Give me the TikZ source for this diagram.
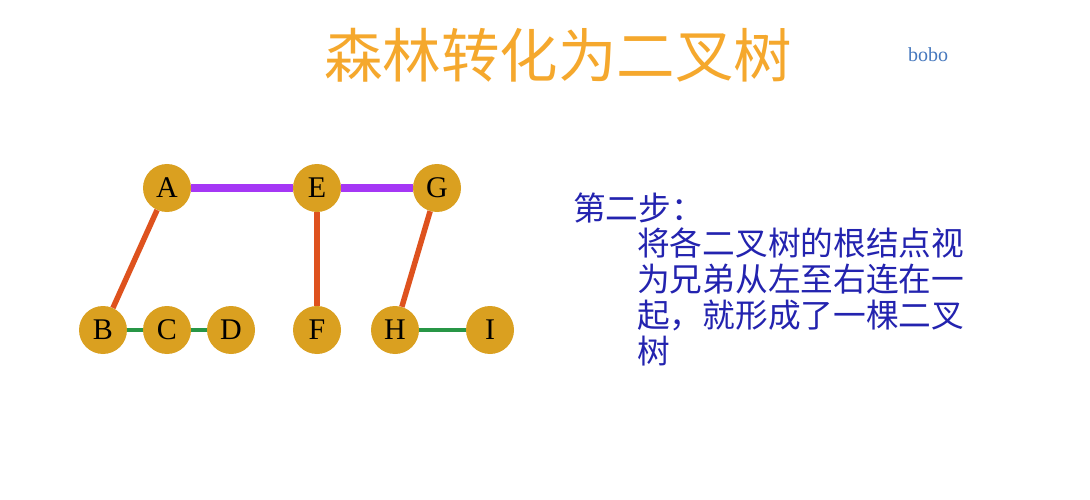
\documentclass[tikz,border=0pt]{standalone}
\usepackage{fontspec}
\setmainfont{Liberation Serif}
\newfontfamily\cjk{Noto Sans CJK SC}
\definecolor{titleorange}{RGB}{245,168,45}
\definecolor{bobblue}{RGB}{70,120,190}
\definecolor{textblue}{RGB}{35,35,175}
\definecolor{nodegold}{RGB}{218,160,32}
\definecolor{edgered}{RGB}{222,82,30}
\definecolor{edgepurple}{RGB}{165,55,245}
\definecolor{edgegreen}{RGB}{40,150,70}
\tikzset{
  treenode/.style={circle, fill=nodegold, minimum size=48pt, inner sep=0pt,
    font=\fontsize{30}{30}\selectfont, text=black},
  childedge/.style={draw=edgered, line width=5.5pt},
  rootedge/.style={draw=edgepurple, line width=7pt},
  sibedge/.style={draw=edgegreen, line width=4pt},
  desc/.style={anchor=west, text=textblue, font=\cjk\fontsize{32.7}{32.7}\selectfont, inner sep=0pt}
}
\begin{document}
\begin{tikzpicture}[x=1pt,y=-1pt]
\useasboundingbox (0,0) rectangle (1090,500);
\fill[white] (0,0) rectangle (1090,500);
\node[text=titleorange, font=\cjk\fontsize{58.5}{58.5}\selectfont] (title) at (558,55) {森林转化为二叉树};
\node[text=bobblue, font=\fontsize{20}{20}\selectfont] (bobo) at (928,55) {bobo};
\path
  node[treenode] (A) at (167,188) {A}
  node[treenode] (E) at (317,188) {E}
  node[treenode] (G) at (437,188) {G}
  node[treenode] (B) at (103,330) {B}
  node[treenode] (C) at (167,330) {C}
  node[treenode] (D) at (231,330) {D}
  node[treenode] (F) at (317,330) {F}
  node[treenode] (H) at (395,330) {H}
  node[treenode] (I) at (490,330) {I};
\path[rootedge] (A) -- (E);
\path[rootedge] (E) -- (G);
\path[childedge] (A) -- (B);
\path[childedge] (E) -- (F);
\path[childedge] (G) -- (H);
\path[sibedge] (B) -- (C);
\path[sibedge] (C) -- (D);
\path[sibedge] (H) -- (I);
\node[desc] (s0) at (573,208) {第二步：};
\node[desc] (s1) at (637,243) {将各二叉树的根结点视};
\node[desc] (s2) at (637,279) {为兄弟从左至右连在一};
\node[desc] (s3) at (637,315) {起，就形成了一棵二叉};
\node[desc] (s4) at (637,351) {树};
\end{tikzpicture}
\end{document}
